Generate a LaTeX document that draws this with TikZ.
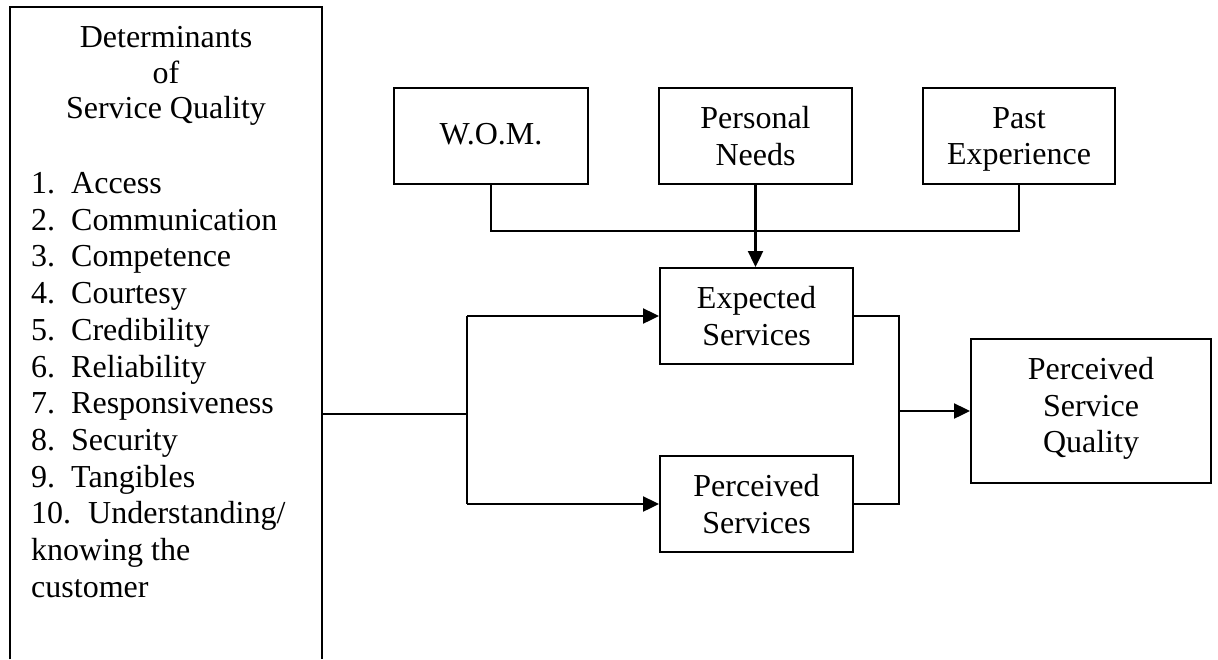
\documentclass[tikz,border=0pt]{standalone}
\usepackage{fontspec}
\setmainfont{Liberation Serif}
\usetikzlibrary{arrows.meta}
\begin{document}
\begin{tikzpicture}[x=1pt,y=-1pt,
  box/.style={draw, line width=2pt, inner sep=0pt, align=center,
    font=\fontsize{32}{36.7}\selectfont, anchor=north west},
  conn/.style={line width=2.4pt},
  arr/.style={conn, -{Triangle[length=16pt,width=15pt]}},
  txt/.style={inner sep=0pt, font=\fontsize{32}{36.7}\selectfont},
  item/.style={txt, anchor=base west}]
\useasboundingbox[fill=white] (0,0) rectangle (1218,659);

% left determinants frame (open at the bottom)
\node[draw=none, inner sep=0pt, minimum width=312, minimum height=652, anchor=north west] (det) at (10,7) {};
\draw[line width=2pt] (det.south west) -- (det.north west) -- (det.north east) -- (det.south east);

\node[txt, anchor=base] (t1) at (166,47) {Determinants};
\node[txt, anchor=base] (t2) at (166,83) {of};
\node[txt, anchor=base] (t3) at (166,118) {Service Quality};

\node[item] (l1) at (31,193.5) {\makebox[40pt][l]{1.}Access};
\node[item] (l2) at (31,230.2) {\makebox[40pt][l]{2.}Communication};
\node[item] (l3) at (31,266.9) {\makebox[40pt][l]{3.}Competence};
\node[item] (l4) at (31,303.6) {\makebox[40pt][l]{4.}Courtesy};
\node[item] (l5) at (31,340.3) {\makebox[40pt][l]{5.}Credibility};
\node[item] (l6) at (31,377.0) {\makebox[40pt][l]{6.}Reliability};
\node[item] (l7) at (31,413.7) {\makebox[40pt][l]{7.}Responsiveness};
\node[item] (l8) at (31,450.4) {\makebox[40pt][l]{8.}Security};
\node[item] (l9) at (31,487.1) {\makebox[40pt][l]{9.}Tangibles};
\node[item] (l10) at (31,523.8) {10.\hspace{17pt}Understanding/};
\node[item] (l11) at (31,560.5) {knowing the};
\node[item] (l12) at (31,597.2) {customer};

% boxes
\node[box, text height=16pt, text depth=0pt, minimum width=194, minimum height=96] (wom) at (393,87) {W.O.M.};
\node[box, text depth=0pt, minimum width=193, minimum height=96] (needs) at (658,87) {Personal\\Needs};
\node[box, text depth=0pt, minimum width=192, minimum height=96] (past) at (922,87) {Past\\Experience};
\node[box, text depth=0pt, minimum width=193, minimum height=96] (exp) at (659,267) {Expected\\Services};
\node[box, text depth=0pt, minimum width=193, minimum height=96] (perc) at (659,455) {Perceived\\Services};
\node[box, text depth=12pt, minimum width=240, minimum height=144] (psq) at (970,338) {Perceived\\Service\\Quality};

% junction points
\coordinate (split) at (467,414);
\coordinate (bus) at (756,231);
\coordinate (join) at (899,412);

% connectors
\draw[conn] (wom.south) -- (wom.south |- bus) -- (past.south |- bus) -- (past.south);
\draw[arr] (needs.south) -- (needs.south |- exp.north);

\draw[conn] (det.east |- split) -- (split);
\draw[conn] (split |- exp.west) -- (split |- perc.west);
\draw[arr] (split |- exp.west) -- (exp.west);
\draw[arr] (split |- perc.west) -- (perc.west);

\draw[conn] (exp.east) -- (exp.east -| join) -- (perc.east -| join) -- (perc.east);
\draw[arr] (join |- psq.west) -- (psq.west);
\end{tikzpicture}
\end{document}
